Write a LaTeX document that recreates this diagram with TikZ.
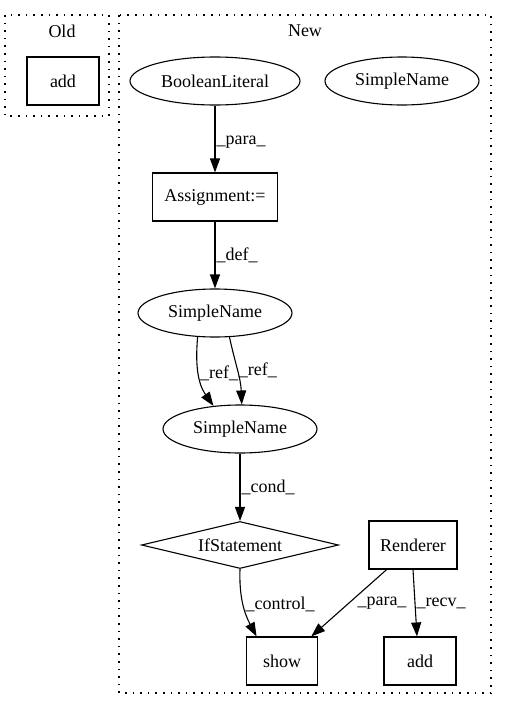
\documentclass[tikz,border=0pt]{standalone}
\usepackage{fontspec}
\setmainfont{Liberation Serif}
\usetikzlibrary{arrows.meta,shapes.geometric}
\begin{document}
\begin{tikzpicture}[
			x=1pt, y=-1pt,
			font=\fontsize{18}{21}\selectfont,
			every node/.style={inner sep=0pt},
			cluster/.style={draw, line width=1.1pt, dash pattern=on 1.6pt off 6pt},
			elli/.style={draw, ellipse, line width=1.1pt, minimum height=48pt},
			box/.style={draw, rectangle, line width=1.1pt, minimum height=48pt},
			decision/.style={draw, diamond, aspect=4.2, line width=1.1pt, minimum width=197pt, minimum height=47pt},
			edge/.style={line width=1.1pt, -{Triangle[length=14pt,width=10pt]}},
			lbl/.style={font=\fontsize{18}{21}\selectfont}
			]
			\useasboundingbox (0,0) rectangle (507,712);
			\draw[cluster] (5,15) rectangle (109,116);
			\draw[cluster] (119,15) rectangle (491,693);
			\node (oldlabel) at (62,31) {Old};
			\node (newlabel) at (305,31) {New};
			\node[box, minimum width=72pt] (oldadd) at (63,81) {add};
			\node[elli, minimum width=170pt] (boollit) at (215,81) {BooleanLiteral};
			\node[elli, minimum width=154pt] (sname) at (402,81) {SimpleName};
			\node[box, minimum width=125pt] (assign) at (215,197) {Assignment:=};
			\node[elli, minimum width=154pt] (sdef) at (215,313) {SimpleName};
			\node[elli, minimum width=154pt] (sref) at (240,429) {SimpleName};
			\node[decision] (ifst) at (240,545) {IfStatement};
			\node[box, minimum width=88pt] (renderer) at (413,545) {Renderer};
			\node[box, minimum width=71pt] (show) at (282,661) {show};
			\node[box, minimum width=72pt] (newadd) at (420,661) {add};
			\draw[edge] (boollit) -- node[lbl, right=1pt, pos=0.55] {\_para\_} (assign);
			\draw[edge] (assign) -- node[lbl, right=1pt] {\_def\_} (sdef);
			\draw[edge] (sdef.234) to[out=265, in=125] node[lbl, right=1pt, pos=0.5] {\_ref\_} (sref.139);
			\draw[edge] (sdef.301) to[out=-78, in=92] node[lbl, right=1pt, pos=0.5] {\_ref\_} (sref.86);
			\draw[edge] (sref) -- node[lbl, right=1pt] {\_cond\_} (ifst);
			\draw[edge] (ifst.south) to[out=-92, in=118] node[lbl, right=2pt, pos=0.5] {\_control\_} (show.136);
			\draw[edge] (renderer.223) -- node[lbl, right=8pt, pos=0.5] {\_para\_} (show.40);
			\draw[edge] (renderer.south) -- node[lbl, right=1pt, pos=0.5] {\_recv\_} (newadd.97);
		\end{tikzpicture}
\end{document}
